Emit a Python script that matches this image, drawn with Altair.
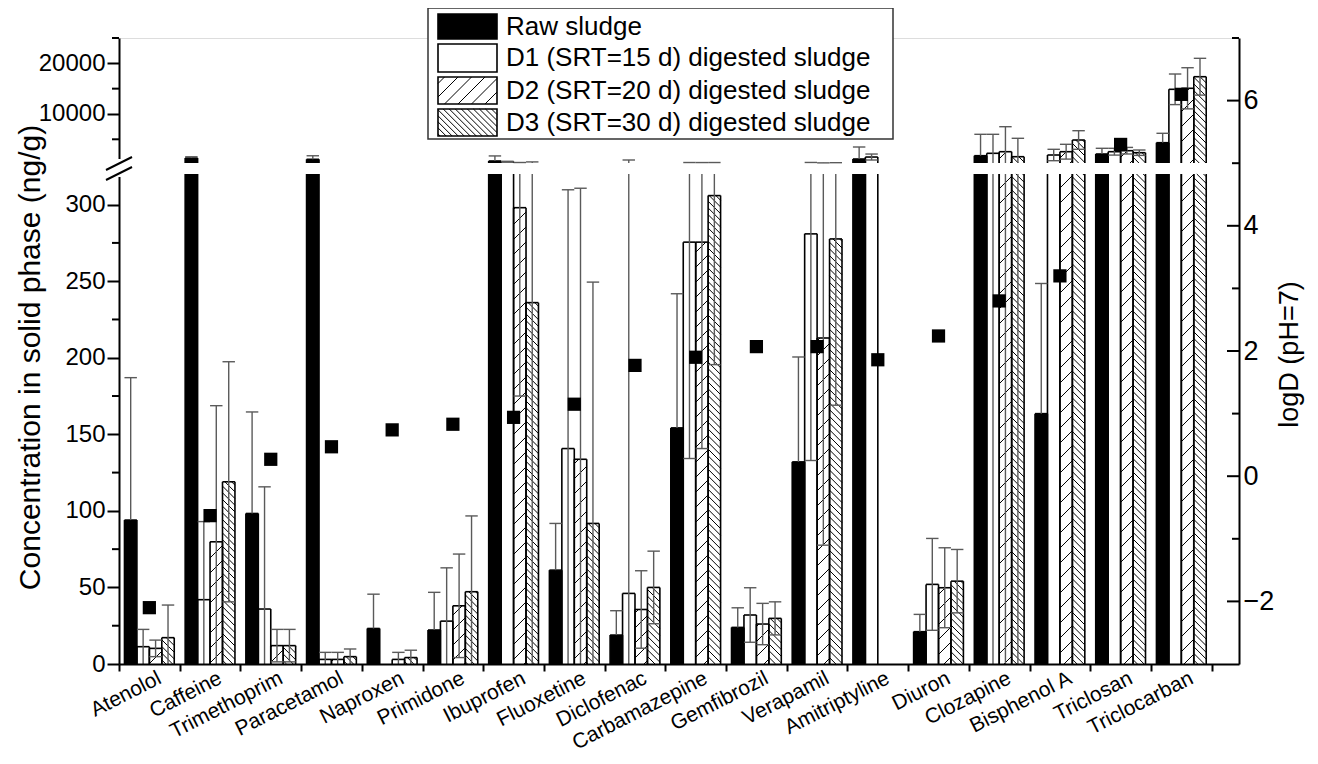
import math
import altair as alt
import pandas as pd

# ---------------- data ----------------
cats = ["Atenolol", "Caffeine", "Trimethoprim", "Paracetamol", "Naproxen", "Primidone",
        "Ibuprofen", "Fluoxetine", "Diclofenac", "Carbamazepine", "Gemfibrozil", "Verapamil",
        "Amitriptyline", "Diuron", "Clozapine", "Bisphenol A", "Triclosan", "Triclocarban"]
series = ["Raw sludge", "D1 (SRT=15 d) digested sludge",
          "D2 (SRT=20 d) digested sludge", "D3 (SRT=30 d) digested sludge"]

raw = [94, 1300, 98.3, 1050, 23.2, 22.2, 716, 61.3, 18.9, 154.2, 23.9, 132, 1110, 21.1, 1762, 163.5, 2098, 4330]
raw_sd = [93, 250, 66.3, 700, 22.4, 24.6, 1000, 30.5, 15.9, 87.6, 12.8, 68.5, 2370, 11.3, 4224, 85, 1125, 1854]
d1 = [11.3, 42, 35.9, 3.0, 0, 28, 580, 140.7, 46.1, 275.5, 32, 280.9, 1500, 52, 2236, 1900, 2552, 14870]
d1_sd = [11.3, 51, 79.8, 4.6, 0, 34.8, 50, 169, 867, 141.3, 17.8, 148, 590, 30, 3750, 1125, 670, 3020]
d2 = [10.2, 79.8, 12, 3.0, 3.0, 38, 298, 133.7, 35.6, 275.5, 26.1, 212.9, 0, 49.8, 2552, 2552, 2750, 15070]
d2_sd = [5.4, 88.9, 10.6, 4.6, 4.6, 33.8, 123, 177, 25.3, 134.8, 13.5, 135.3, 0, 26.1, 4935, 1460, 650, 4060]
d3 = [17.2, 119, 12, 4.8, 4.2, 47.2, 236, 91.8, 50, 305.9, 29.8, 277.6, 0, 54.1, 1565, 4861, 2354, 17357]
d3_sd = [21.3, 78.4, 10.6, 5.0, 4.8, 49.5, 300, 157.6, 23.7, 110.4, 10.8, 108.6, 0, 20.7, 3632, 1836, 533, 3630]
logd = [-2.1, -0.63, 0.27, 0.47, 0.74, 0.83, 0.94, 1.15, 1.77, 1.90, 2.07, 2.07, 1.86, 2.24, 2.80, 3.20, 5.30, 6.10]

left_major = [0, 50, 100, 150, 200, 250, 300, 10000, 20000]
left_minor = [25, 75, 125, 175, 225, 275, 5000, 15000, 25000]
right_major = [-2, 0, 2, 4, 6]
right_minor = [-1, 1, 3, 5, 7]

# ---------------- layout / scales ----------------
W, H = 1120, 626
XMAX = 18.45
LOW_TOP, HIGH_BOT = 320, 321
Y_DOM = [0, LOW_TOP, HIGH_BOT, 25000]
Y_RNG = [H, 136, 125, 0]
BAR_OFF, BAR_W = 0.09, 0.205
FONT = "Liberation Sans"
ERR_COLOR = "#5a5a5a"

xs = alt.Scale(domain=[0, XMAX], nice=False, zero=False)
ys = alt.Scale(domain=Y_DOM, range=Y_RNG, nice=False, zero=False)
ls = alt.Scale(domain=[-3, 7], nice=False, zero=False)


def px_x(u):
    return u * W / XMAX


def data_x(p):
    return p * XMAX / W


def px_yb(v):
    if v <= LOW_TOP:
        return v / LOW_TOP * (H - 136)
    return (H - 125) + (v - HIGH_BOT) / (25000 - HIGH_BOT) * 125


def data_y(pb):
    if pb <= (H - 136) + 1e-6:
        return pb / (H - 136) * LOW_TOP
    return HIGH_BOT + (pb - (H - 125)) / 125 * (25000 - HIGH_BOT)


def hatch(xa, xb, ya, yb, period, direction):
    segs = []
    if direction > 0:
        kmin = math.floor((ya - xb) / period)
        kmax = math.ceil((yb - xa) / period)
        for k in range(kmin, kmax + 1):
            c = k * period
            lo, hi = max(xa, ya - c), min(xb, yb - c)
            if hi - lo > 0.4:
                segs.append((lo, lo + c, hi, hi + c))
    else:
        kmin = math.floor((xa + ya) / period)
        kmax = math.ceil((xb + yb) / period)
        for k in range(kmin, kmax + 1):
            c = k * period
            lo, hi = max(xa, c - yb), min(xb, c - ya)
            if hi - lo > 0.4:
                segs.append((lo, c - lo, hi, c - hi))
    return segs


HATCH = {2: (15.0, 1), 3: (6.7, -1)}

vals = [raw, d1, d2, d3]
sds = [raw_sd, d1_sd, d2_sd, d3_sd]
fills = ["black", "white", "white", "white"]

bar_rows, edge_rows, hatch_rows, err_rows = [], [], [], []
for i, cat in enumerate(cats):
    for j in range(4):
        v, sd = vals[j][i], sds[j][i]
        if v <= 0:
            continue
        x0 = i + BAR_OFF + j * BAR_W
        x1 = x0 + BAR_W
        xc = (x0 + x1) / 2
        pieces = [(0, min(v, LOW_TOP), v <= LOW_TOP)]
        if v > HIGH_BOT:
            pieces.append((HIGH_BOT, v, True))
        for (y0, y1, closed) in pieces:
            bar_rows.append(dict(x0=x0, x1=x1, y0=y0, y1=y1, fill=fills[j]))
            edge_rows.append(dict(xa=x0, xb=x0, ya=y0, yb=y1))
            edge_rows.append(dict(xa=x1, xb=x1, ya=y0, yb=y1))
            if closed:
                edge_rows.append(dict(xa=x0, xb=x1, ya=y1, yb=y1))
            if j in HATCH:
                per, d = HATCH[j]
                for (ax, ay, bx, by) in hatch(px_x(x0), px_x(x1), px_yb(y0), px_yb(y1), per, d):
                    hatch_rows.append(dict(xa=data_x(ax), xb=data_x(bx), ya=data_y(ay), yb=data_y(by)))
        if sd > 0:
            lo, hi = v - sd, v + sd
            a = v if j == 0 else max(lo, 0)
            if a < LOW_TOP:
                err_rows.append(dict(xa=xc, xb=xc, ya=a, yb=min(hi, LOW_TOP)))
            if hi > HIGH_BOT:
                err_rows.append(dict(xa=xc, xb=xc, ya=max(a, HIGH_BOT), yb=hi))
            caps = [hi] + ([lo] if (j != 0 and lo > 0) else [])
            for c in caps:
                if c <= LOW_TOP or c >= HIGH_BOT:
                    err_rows.append(dict(xa=x0, xb=x1, ya=c, yb=c))

bars_df = pd.DataFrame(bar_rows)
edges_df = pd.DataFrame(edge_rows)
hatch_df = pd.DataFrame(hatch_rows)
err_df = pd.DataFrame(err_rows)
pts_df = pd.DataFrame({"xc": [i + 0.5 for i in range(len(cats))], "logd": logd})
cat_df = pd.DataFrame({"cat": cats})


def seg_layer(df, width, color):
    return alt.Chart(df).mark_rule(strokeWidth=width, color=color).encode(
        x=alt.X("xa:Q", scale=xs, axis=None), x2="xb",
        y=alt.Y("ya:Q", scale=ys, axis=None), y2="yb")


left_axis = alt.Axis(values=left_major, format="d", tickSize=12, tickWidth=2, tickColor="black",
                     domainWidth=2, domainColor="black", labelFontSize=24, labelPadding=2,
                     labelColor="black", title="Concentration in solid phase (ng/g)",
                     titleFontSize=30, titleFontWeight="normal", titleColor="black",
                     titleAngle=270, titleX=-89, titleY=319, titleBaseline="middle",
                     titleAlign="center", grid=False)

bars = alt.Chart(bars_df).mark_rect(strokeWidth=0).encode(
    x=alt.X("x0:Q", scale=xs, axis=None), x2="x1",
    y=alt.Y("y0:Q", scale=ys, axis=left_axis), y2="y1",
    color=alt.Color("fill:N", scale=None))

hatches = seg_layer(hatch_df, 1, "black")
edges = seg_layer(edges_df, 1.6, "black")
errs = seg_layer(err_df, 1.4, ERR_COLOR)

minor_left = alt.Chart(pd.DataFrame({"v": left_minor})).mark_rule(strokeWidth=2, color="black").encode(
    x=alt.value(-7), x2=alt.value(0), y=alt.Y("v:Q", scale=ys, axis=None))

# axis break marks
brk_df = pd.DataFrame({"xa": [0, -13, -13], "xb": [0, 13, 13],
                       "ya": [121, 132, 142], "yb": [139, 119, 129],
                       "c": ["white", "black", "black"], "w": [5, 2, 2]})
brk = alt.Chart(brk_df).mark_rule().encode(
    x=alt.X("xa:Q", scale=None), x2="xb", y=alt.Y("ya:Q", scale=None), y2="yb",
    color=alt.Color("c:N", scale=None), strokeWidth=alt.StrokeWidth("w:Q", scale=None))

right_axis = alt.Axis(orient="right", values=right_major, ticks=False, tickSize=0, labelPadding=4,
                      domainWidth=2, domainColor="black", labelFontSize=27, labelColor="black",
                      title="logD (pH=7)", titleFontSize=27, titleFontWeight="normal",
                      titleColor="black", titleAngle=270, titleX=50, titleY=316,
                      titleBaseline="middle", titleAlign="center", grid=False)

points = alt.Chart(pts_df).mark_square(size=175, color="black", opacity=1).encode(
    x=alt.X("xc:Q", scale=xs, axis=None),
    y=alt.Y("logd:Q", scale=ls, axis=right_axis))

rmaj = alt.Chart(pd.DataFrame({"t": right_major})).mark_rule(strokeWidth=2, color="black").encode(
    x=alt.value(W - 12), x2=alt.value(W), y=alt.Y("t:Q", scale=ls, axis=None))
rmin = alt.Chart(pd.DataFrame({"t": right_minor})).mark_rule(strokeWidth=2, color="black").encode(
    x=alt.value(W - 7), x2=alt.value(W), y=alt.Y("t:Q", scale=ls, axis=None))

x_axis = alt.Axis(title=None, tickBand="extent", labelAngle=-27, labelAlign="right",
                  labelBaseline="top", labelFontSize=21, labelColor="black", labelPadding=-4,
                  labelOffset=5, tickSize=7, tickWidth=2, tickColor="black", domainWidth=2,
                  domainColor="black", grid=False, zindex=1, labelOverlap=False, labelBound=False)
xband = alt.Chart(cat_df).mark_point(opacity=0).encode(
    x=alt.X("cat:N", sort=cats,
            scale=alt.Scale(paddingInner=0, paddingOuter=(XMAX - len(cats)) / 2, align=0),
            axis=x_axis))

# ---------------- legend (drawn inside the plot) ----------------
LX0, LX1, LY0, LY1 = 309, 774, -30, 101
SX0, SX1 = 319, 378
rows_y = [(-24, 1), (6, 34), (39, 66), (71, 98)]
leg_box = alt.Chart(pd.DataFrame({"a": [0]})).mark_rect(fill="white", stroke="#333333", strokeWidth=1.5).encode(
    x=alt.value(LX0), x2=alt.value(LX1), y=alt.value(LY0), y2=alt.value(LY1))
sw_df = pd.DataFrame({"xa": [SX0] * 4, "xb": [SX1] * 4,
                      "ya": [r[0] for r in rows_y], "yb": [r[1] for r in rows_y], "fill": fills})
leg_sw = alt.Chart(sw_df).mark_rect(stroke="black", strokeWidth=1.6).encode(
    x=alt.X("xa:Q", scale=None), x2="xb", y=alt.Y("ya:Q", scale=None), y2="yb",
    color=alt.Color("fill:N", scale=None))
lh_rows = []
for j in (2, 3):
    per, d = HATCH[j]
    y0, y1 = rows_y[j]
    for (ax, ay, bx, by) in hatch(SX0, SX1, -y1, -y0, per * 0.9, d):
        lh_rows.append(dict(xa=ax, xb=bx, ya=-ay, yb=-by))
leg_h = alt.Chart(pd.DataFrame(lh_rows)).mark_rule(strokeWidth=1, color="black").encode(
    x=alt.X("xa:Q", scale=None), x2="xb", y=alt.Y("ya:Q", scale=None), y2="yb")
leg_txt_df = pd.DataFrame({"s": series, "ty": [(r[0] + r[1]) / 2 for r in rows_y]})
leg_txt = alt.Chart(leg_txt_df).mark_text(align="left", baseline="middle", fontSize=26,
                                          font=FONT, color="black").encode(
    x=alt.value(387), y=alt.Y("ty:Q", scale=None), text="s:N")

chart = alt.layer(
    xband, bars, hatches, edges, errs, minor_left, brk, points, rmaj, rmin,
    leg_box, leg_sw, leg_h, leg_txt
).resolve_scale(x="independent", y="independent").properties(
    width=W, height=H, autosize="none",
    padding={"left": 111, "top": 30, "right": 70, "bottom": 92}
).configure_view(stroke=None).configure(font=FONT).configure_axis(labelFont=FONT, titleFont=FONT)

chart.save("out.html", embed_options={"renderer": "svg", "actions": False})
